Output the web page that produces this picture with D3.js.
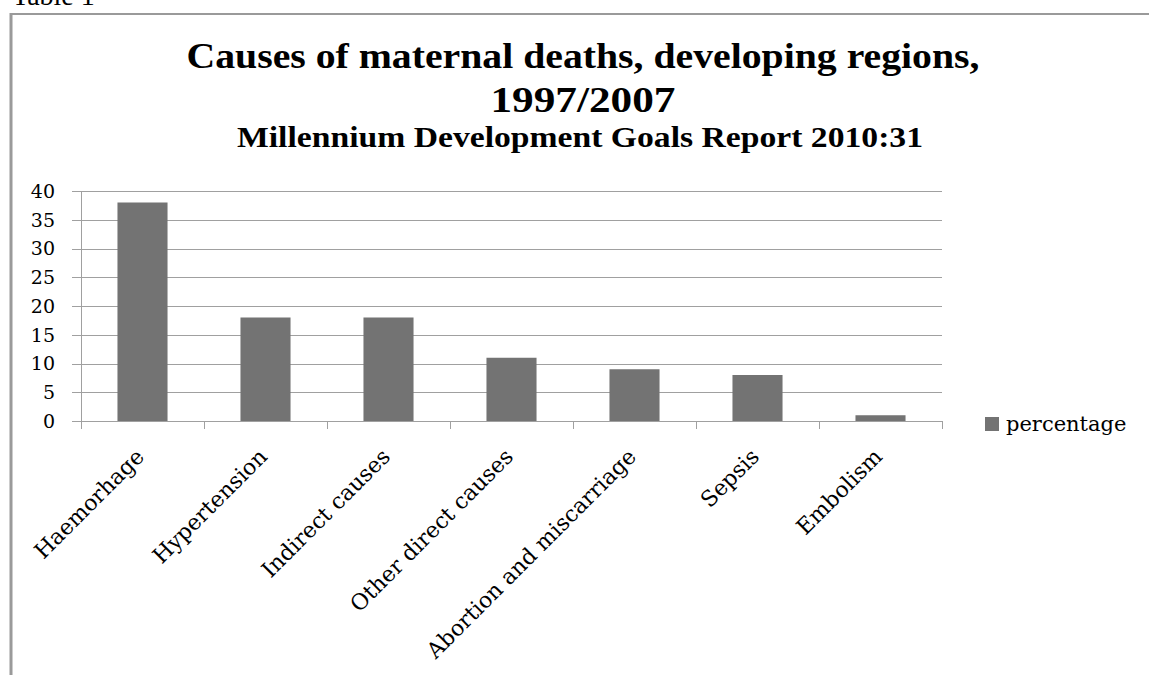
<!DOCTYPE html>
<html>
<head>
<meta charset="utf-8">
<script src="https://cdn.jsdelivr.net/npm/d3@7"></script>
<style>
  html, body { margin: 0; padding: 0; background: #fff; }
  svg { display: block; }
</style>
</head>
<body>
<svg id="chart" width="1149" height="675"></svg>
<script>
// data
const categories = ["Haemorhage", "Hypertension", "Indirect causes", "Other direct causes",
                    "Abortion and miscarriage", "Sepsis", "Embolism"];
const percentage = [38, 18, 18, 11, 9, 8, 1];
const yTicks = [0, 5, 10, 15, 20, 25, 30, 35, 40];
const titleLines = ["Causes of maternal deaths, developing regions,", "1997/2007"];
const subtitle = "Millennium Development Goals Report 2010:31";
const seriesName = "percentage";

const svg = d3.select("#chart");
const barColor = "#737373";
const gridColor = "#a0a0a0";
const serif = "'DejaVu Serif', serif";
const titleFont = "'Liberation Serif', serif";

// "Table 1" caption, cut at the top edge like in the scan
svg.append("text")
  .attr("x", 12).attr("y", 5)
  .style("font-family", titleFont)
  .style("font-size", "28px")
  .text("Table 1");

// frame (only top and left edges show)
svg.append("line").attr("x1", 10).attr("x2", 1149).attr("y1", 14).attr("y2", 14)
  .attr("stroke", "#9a9a9a").attr("stroke-width", 2);
svg.append("line").attr("x1", 11).attr("x2", 11).attr("y1", 13).attr("y2", 675)
  .attr("stroke", "#9a9a9a").attr("stroke-width", 3);

// titles - widths
const cx = 583;
const titleWidths = [793, 185];
svg.selectAll(".title").data(titleLines).enter().append("text")
  .attr("class", "title")
  .attr("x", cx)
  .attr("y", (d, i) => 68 + i * 44)
  .attr("text-anchor", "middle")
  .attr("textLength", (d, i) => titleWidths[i])
  .attr("lengthAdjust", "spacingAndGlyphs")
  .style("font-family", titleFont)
  .style("font-weight", "bold")
  .style("font-size", "35px")
  .text(d => d);

svg.append("text")
  .attr("x", 580).attr("y", 147)
  .attr("text-anchor", "middle")
  .attr("textLength", 686)
  .attr("lengthAdjust", "spacingAndGlyphs")
  .style("font-family", titleFont)
  .style("font-weight", "bold")
  .style("font-size", "29px")
  .text(subtitle);

// scales
const x = d3.scaleBand().domain(categories).range([81, 942]).paddingInner(0.593).paddingOuter(0.2965);
const y = d3.scaleLinear().domain([0, 40]).range([421, 191]);
const step = x.step();

// gridlines
svg.append("g").selectAll("line").data(yTicks).enter().append("line")
  .attr("x1", 72).attr("x2", 942)
  .attr("y1", d => Math.round(y(d)) + 0.5).attr("y2", d => Math.round(y(d)) + 0.5)
  .attr("stroke", gridColor).attr("stroke-width", 1);

// y axis line
svg.append("line").attr("x1", 81.5).attr("x2", 81.5).attr("y1", y(40)).attr("y2", 429)
  .attr("stroke", gridColor);

// category boundary tick marks
svg.append("g").selectAll("line").data(d3.range(categories.length + 1)).enter().append("line")
  .attr("x1", i => Math.round(81 + i * step) + 0.5).attr("x2", i => Math.round(81 + i * step) + 0.5)
  .attr("y1", 421).attr("y2", 429)
  .attr("stroke", gridColor);

// y labels
svg.append("g").selectAll("text").data(yTicks).enter().append("text")
  .attr("x", 55)
  .attr("y", d => y(d))
  .attr("dy", "0.36em")
  .attr("text-anchor", "end")
  .style("font-family", serif)
  .style("font-size", "19px")
  .text(d => d);

// bars
svg.append("g").selectAll("rect").data(percentage).enter().append("rect")
  .attr("x", (d, i) => x(categories[i]))
  .attr("y", d => y(d))
  .attr("width", x.bandwidth())
  .attr("height", d => y(0) - y(d))
  .attr("fill", barColor);

// category labels, rotated
svg.append("g").selectAll("text").data(categories).enter().append("text")
  .attr("transform", d => `translate(${x(d) + x.bandwidth() / 2 + 3},458) rotate(-45)`)
  .attr("text-anchor", "end")
  .style("font-family", serif)
  .style("font-size", "22px")
  .text(d => d);

// legend
svg.append("rect").attr("x", 985).attr("y", 417).attr("width", 14).attr("height", 14).attr("fill", barColor);
svg.append("text").attr("x", 1006).attr("y", 431)
  .style("font-family", serif)
  .style("font-size", "21px")
  .text(seriesName);
</script>
</body>
</html>
